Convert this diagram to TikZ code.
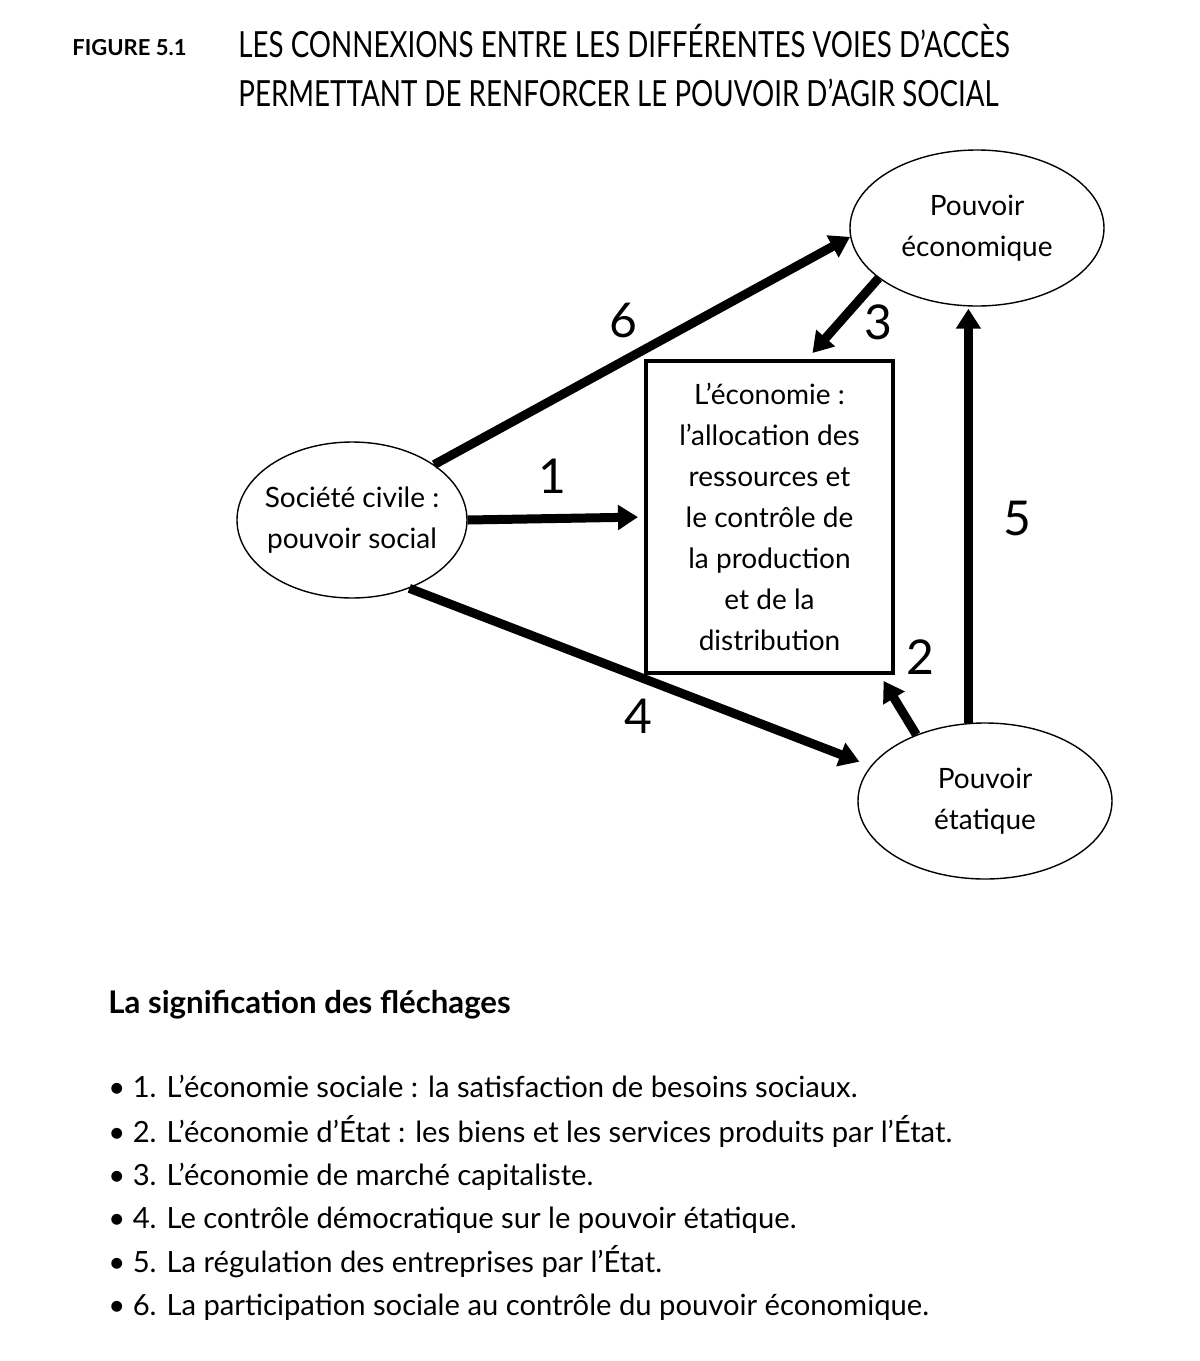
\documentclass[tikz,border=0pt]{standalone}
\usepackage{fontspec}
\setmainfont{Lato}
\newfontfamily\ttlfam{Lato}[FakeStretch=0.77]
\usetikzlibrary{shapes.geometric,arrows.meta,calc}
\newcommand\difont{\fontsize{14}{20.5}\selectfont}
\newcommand\numfont{\fontsize{24}{24}\selectfont}
\newcommand\ttlfont{\ttlfam\fontsize{18}{24}\selectfont}
\newcommand\figfont{\fontsize{11}{13}\selectfont\bfseries}
\newcommand\lgfont{\fontsize{14.6}{18}\selectfont}
\begin{document}
\begin{tikzpicture}[x=0.5pt,y=-0.5pt,
  ell/.style={draw,ellipse,line width=0.7pt,minimum width=127pt,minimum height=78pt,inner sep=0pt},
  etxt/.style={align=center,font=\difont,inner sep=0pt},
  arr/.style={line width=4.5pt,-{Triangle[length=10pt,width=12pt]}},
  num/.style={font=\numfont,inner sep=0pt},
  lg/.style={anchor=base west,font=\lgfont,inner sep=0pt}]
\useasboundingbox (0,0) rectangle (1200,1361);
% title
\node[anchor=base west,font=\figfont,inner sep=0pt] (fig) at (72,55) {FIGURE 5.1};
\node[anchor=base west,font=\ttlfont,inner sep=0pt] (t1) at (238,57) {LES CONNEXIONS ENTRE LES DIFFÉRENTES VOIES D’ACCÈS};
\node[anchor=base west,font=\ttlfont,inner sep=0pt] (t2) at (238,106) {PERMETTANT DE RENFORCER LE POUVOIR D’AGIR SOCIAL};
% nodes
\node[ell] (eco) at (977,228) {};
\node[etxt] (ecot) at (eco) {Pouvoir\\économique};
\node[ell,minimum width=115pt] (soc) at (352,520) {};
\node[etxt] (soct) at (soc) {Société civile~:\\pouvoir social};
\node[ell] (eta) at (985,801) {};
\node[etxt] (etat) at (eta) {Pouvoir\\étatique};
\node[draw,line width=2pt,minimum width=123.5pt,minimum height=156pt,inner sep=0pt,align=center,font=\difont] (box) at (769.5,517)
  {L’économie~:\\l’allocation des\\ressources et\\le contrôle de\\la production\\et de la\\distribution};
% arrows
\draw[arr] (soc.34) -- (eco.184);
\draw[arr,shorten >=4pt] (eco.207) -- ($(box.north west)!0.65!(box.north east)$);
\draw[arr,shorten >=3pt] (soc.east) -- (box.west);
\draw[arr,shorten >=6pt] (soc.-50) -- (eta.163);
\draw[arr,shorten >=3.5pt] (eta.136) -- ($(box.south west)!0.94!(box.south east)$);
\draw[arr,shorten >=1pt] (eta.102) -- (eta.102 |- eco.south);
% labels
\node[num] (n6) at (623,320) {6};
\node[num] (n3) at (878,322) {3};
\node[num] (n1) at (552,476) {1};
\node[num] (n5) at (1017,518) {5};
\node[num] (n2) at (920,657) {2};
\node[num] (n4) at (638,716) {4};
% legend
\node[anchor=base west,font=\fontsize{15.6}{18}\selectfont\bfseries,inner sep=0pt] (lt) at (108,1013) {La signification des fléchages};
\node[lg] (l1) at (108,1097) {• 1. L’économie sociale~: la satisfaction de besoins sociaux.};
\node[lg] (l2) at (108,1142) {• 2. L’économie d’État~: les biens et les services produits par l’État.};
\node[lg] (l3) at (108,1185) {• 3. L’économie de marché capitaliste.};
\node[lg] (l4) at (108,1228) {• 4. Le contrôle démocratique sur le pouvoir étatique.};
\node[lg] (l5) at (108,1272) {• 5. La régulation des entreprises par l’État.};
\node[lg] (l6) at (108,1315) {• 6. La participation sociale au contrôle du pouvoir économique.};
\end{tikzpicture}
\end{document}
